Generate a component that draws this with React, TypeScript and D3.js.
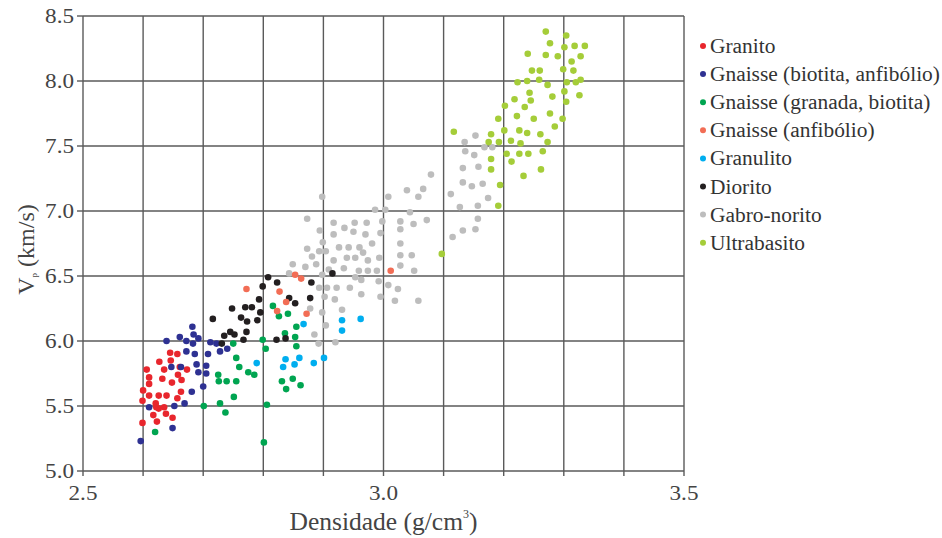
import React from "react";
import * as d3 from "d3";

const seriesNames = [
  "Granito",
  "Gnaisse (biotita, anfibólio)",
  "Gnaisse (granada, biotita)",
  "Gnaisse (anfibólio)",
  "Granulito",
  "Diorito",
  "Gabro-norito",
  "Ultrabasito",
];
const seriesColors = ["#e8262d", "#2e3192", "#00a551", "#f26d55", "#00aeef", "#231f20", "#bdbdbd", "#a5cd39"];

const xTicks = [2.5, 3.0, 3.5];
const yTicks = [5.0, 5.5, 6.0, 6.5, 7.0, 7.5, 8.0, 8.5];
const xGrid = [2.5, 2.6, 2.7, 2.8, 2.9, 3.0, 3.1, 3.2, 3.3, 3.4, 3.5];

const granito: [number, number][] = [
  [2.645, 5.91], [2.657, 5.9], [2.627, 5.84], [2.646, 5.85], [2.606, 5.78], [2.635, 5.78],
  [2.673, 5.78], [2.661, 5.8], [2.61, 5.72], [2.632, 5.71], [2.658, 5.74], [2.664, 5.7],
  [2.61, 5.67], [2.648, 5.68], [2.6, 5.62], [2.663, 5.61], [2.61, 5.58], [2.626, 5.58],
  [2.639, 5.58], [2.657, 5.56], [2.599, 5.54], [2.621, 5.52], [2.635, 5.49], [2.626, 5.48],
  [2.617, 5.43], [2.638, 5.44], [2.649, 5.41], [2.599, 5.37], [2.623, 5.38], [2.622, 5.49],
];
const gnaisseBiotita: [number, number][] = [
  [2.682, 6.11], [2.684, 6.05], [2.661, 6.03], [2.672, 6.0], [2.692, 6.02], [2.639, 6.0],
  [2.683, 5.98], [2.712, 5.99], [2.722, 5.98], [2.672, 5.92], [2.686, 5.9], [2.708, 5.9],
  [2.728, 5.92], [2.74, 5.94], [2.647, 5.8], [2.663, 5.8], [2.689, 5.82], [2.692, 5.76],
  [2.705, 5.81], [2.705, 5.75], [2.7, 5.65], [2.681, 5.61], [2.61, 5.49], [2.652, 5.5],
  [2.669, 5.52], [2.649, 5.33], [2.596, 5.23],
];
const gnaisseGranada: [number, number][] = [
  [2.816, 6.27], [2.826, 6.19], [2.841, 6.21], [2.855, 6.11], [2.836, 6.06], [2.853, 6.03],
  [2.855, 5.96], [2.75, 5.98], [2.799, 6.01], [2.804, 5.94], [2.755, 5.87], [2.76, 5.8],
  [2.725, 5.74], [2.726, 5.69], [2.739, 5.69], [2.755, 5.69], [2.775, 5.76], [2.785, 5.74],
  [2.831, 5.69], [2.849, 5.71], [2.862, 5.66], [2.838, 5.63], [2.751, 5.57], [2.701, 5.5],
  [2.728, 5.52], [2.737, 5.45], [2.806, 5.51], [2.62, 5.3], [2.801, 5.22],
];
const gnaisseAnfibolio: [number, number][] = [
  [2.772, 6.4], [2.827, 6.38], [2.838, 6.3], [2.853, 6.51], [2.863, 6.48], [2.823, 6.23],
  [2.872, 6.21], [3.012, 6.54],
];
const granulito: [number, number][] = [
  [2.867, 6.13], [2.789, 5.83], [2.837, 5.86], [2.86, 5.87], [2.833, 5.8], [2.852, 5.82],
  [2.884, 5.83], [2.901, 5.87], [2.931, 6.16], [2.931, 6.08], [2.962, 6.17],
];
const diorito: [number, number][] = [
  [2.808, 6.49], [2.823, 6.45], [2.799, 6.42], [2.793, 6.32], [2.843, 6.33], [2.853, 6.29],
  [2.88, 6.45], [2.878, 6.33], [2.915, 6.52], [2.748, 6.25], [2.77, 6.26], [2.781, 6.26],
  [2.795, 6.22], [2.763, 6.18], [2.773, 6.15], [2.79, 6.16], [2.716, 6.17], [2.745, 6.07],
  [2.752, 6.05], [2.735, 6.04], [2.772, 6.07], [2.767, 6.01], [2.822, 6.01], [2.837, 6.02],
  [2.731, 5.98],
];
const gabroNorito: [number, number][] = [
  [2.898, 7.11], [2.873, 6.94], [2.917, 6.91], [2.935, 6.87], [2.952, 6.91], [2.972, 6.91],
  [2.986, 7.01], [3.003, 7.01], [2.998, 6.92], [2.894, 6.85], [2.917, 6.82], [2.95, 6.84],
  [2.97, 6.82], [2.995, 6.83], [2.899, 6.76], [2.981, 6.75], [2.873, 6.71], [2.893, 6.69],
  [2.904, 6.69], [2.926, 6.72], [2.942, 6.72], [2.96, 6.72], [2.966, 6.68], [2.953, 6.64],
  [2.974, 6.62], [2.993, 6.64], [2.917, 6.62], [2.939, 6.64], [2.849, 6.59], [2.87, 6.57],
  [2.888, 6.59], [2.909, 6.55], [2.934, 6.56], [2.959, 6.54], [2.974, 6.54], [2.989, 6.54],
  [2.843, 6.52], [2.898, 6.51], [2.953, 6.49], [2.963, 6.47], [2.992, 6.46], [3.008, 6.43],
  [2.893, 6.41], [2.906, 6.41], [2.922, 6.41], [2.944, 6.41], [2.902, 6.34], [2.919, 6.32],
  [2.963, 6.36], [2.995, 6.34], [2.878, 6.25], [2.898, 6.22], [2.931, 6.24], [2.904, 6.12],
  [2.885, 6.05], [2.892, 5.98], [2.92, 5.99], [3.008, 7.11], [3.039, 7.16], [3.058, 7.11],
  [3.066, 7.17], [3.112, 7.13], [3.132, 7.22], [3.127, 7.03], [3.044, 6.99], [3.028, 6.92],
  [3.05, 6.9], [3.072, 6.93], [3.132, 6.85], [3.115, 6.8], [3.028, 6.86], [3.028, 6.75],
  [3.028, 6.66], [3.047, 6.66], [3.028, 6.58], [3.051, 6.54], [3.024, 6.4], [3.019, 6.31],
  [3.058, 6.31], [3.135, 7.53], [3.136, 7.46], [3.151, 7.43], [3.168, 7.49], [3.181, 7.49],
  [3.132, 7.33], [3.158, 7.34], [3.079, 7.28], [3.147, 7.19], [3.165, 7.21], [3.174, 7.1],
  [3.157, 7.04], [3.157, 6.94], [3.153, 6.86], [3.153, 7.58], [2.881, 6.65],
];
const ultrabasito: [number, number][] = [
  [3.097, 6.67], [3.117, 7.61], [3.179, 7.59], [3.175, 7.53], [3.192, 7.53], [3.179, 7.4],
  [3.179, 7.32], [3.194, 7.2], [3.191, 7.04], [3.191, 7.71], [3.202, 7.81], [3.201, 7.62],
  [3.218, 7.86], [3.222, 7.73], [3.212, 7.54], [3.205, 7.44], [3.213, 7.38], [3.226, 7.62],
  [3.228, 7.52], [3.226, 7.44], [3.233, 7.27], [3.235, 7.8], [3.239, 7.6], [3.241, 7.44],
  [3.245, 7.85], [3.243, 7.91], [3.25, 7.71], [3.261, 7.59], [3.265, 7.46], [3.262, 7.32],
  [3.273, 7.53], [3.277, 7.75], [3.281, 7.88], [3.285, 7.65], [3.298, 7.71], [3.304, 7.84],
  [3.301, 7.92], [3.27, 8.38], [3.304, 8.35], [3.277, 8.29], [3.301, 8.26], [3.318, 8.27],
  [3.335, 8.27], [3.24, 8.21], [3.27, 8.2], [3.29, 8.19], [3.328, 8.19], [3.313, 8.15],
  [3.247, 8.08], [3.26, 8.08], [3.299, 8.09], [3.316, 8.08], [3.223, 7.99], [3.239, 8.0],
  [3.259, 8.01], [3.273, 7.97], [3.305, 7.99], [3.32, 7.99], [3.328, 8.01], [3.326, 7.89],
];

const seriesData = [granito, gnaisseBiotita, gnaisseGranada, gnaisseAnfibolio, granulito, diorito, gabroNorito, ultrabasito];
const drawOrder = [6, 7, 0, 1, 2, 5, 3, 4];

const W = 942;
const H = 538;
const left = 83;
const right = 684;
const top = 16;
const bottom = 471;
const gridColor = "#5a5a5a";
const font = "'Liberation Serif', 'Times New Roman', serif";

export default function App() {
  const x = d3.scaleLinear().domain([2.5, 3.5]).range([left, right]);
  const y = d3.scaleLinear().domain([5.0, 8.5]).range([bottom, top]);

  return (
    <svg width={W} height={H} style={{ position: "fixed", left: 0, top: 0, background: "#fff" }}>
      <rect x={0} y={0} width={W} height={H} fill="#fff" />
      {/* grid */}
      {xGrid.map((v) => (
        <g key={"xg" + v}>
          <line x1={x(v)} x2={x(v)} y1={y(8.5)} y2={y(5.0)} stroke={gridColor} strokeWidth={1.4} />
          <line x1={x(v)} x2={x(v)} y1={y(5.0)} y2={y(5.0) + 5} stroke={gridColor} strokeWidth={1.4} />
        </g>
      ))}
      {yTicks.map((v) => (
        <g key={"yg" + v}>
          <line x1={x(2.5)} x2={x(3.5)} y1={y(v)} y2={y(v)} stroke={gridColor} strokeWidth={1.4} />
          <line x1={x(2.5) - 6} x2={x(2.5)} y1={y(v)} y2={y(v)} stroke={gridColor} strokeWidth={1.4} />
        </g>
      ))}
      {/* tick labels */}
      {yTicks.map((v) => (
        <text
          key={"yl" + v}
          transform={`translate(${x(2.5) - 9}, ${y(v) + 7}) scale(1.13, 1)`}
          textAnchor="end"
          fontFamily={font}
          fontSize={20.5}
          fill="#444"
        >
          {d3.format(".1f")(v)}
        </text>
      ))}
      {xTicks.map((v) => (
        <text
          key={"xl" + v}
          transform={`translate(${x(v)}, 500) scale(1.13, 1)`}
          textAnchor="middle"
          fontFamily={font}
          fontSize={20.5}
          fill="#444"
        >
          {d3.format(".1f")(v)}
        </text>
      ))}
      {/* axis titles */}
      <text x={(left + right) / 2} y={530} textAnchor="middle" fontFamily={font} fontSize={25.5} fill="#444">
        Densidade (g/cm
        <tspan fontSize={12} dy={-12}>3</tspan>
        <tspan dy={12}>)</tspan>
      </text>
      <text
        transform={`translate(34, ${(top + bottom) / 2 + 6}) rotate(-90)`}
        textAnchor="middle"
        fontFamily={font}
        fontSize={24}
        fill="#444"
      >
        V<tspan fontSize={9} dy={3}>p</tspan>
        <tspan dy={-3}> (km/s)</tspan>
      </text>
      {/* points */}
      {drawOrder.map((si) => (
        <g key={"s" + si}>
          {seriesData[si].map((d, i) => (
            <circle key={i} cx={x(d[0])} cy={y(d[1])} r={3.3} fill={seriesColors[si]} />
          ))}
        </g>
      ))}
      {/* legend */}
      {seriesNames.map((n, i) => (
        <g key={"lg" + i} transform={`translate(0, ${46 + i * 28.1})`}>
          <circle cx={703} cy={0} r={3} fill={seriesColors[i]} />
          <text transform="translate(710, 7) scale(1.07, 1)" fontFamily={font} fontSize={20} fill="#333">
            {n}
          </text>
        </g>
      ))}
    </svg>
  );
}
